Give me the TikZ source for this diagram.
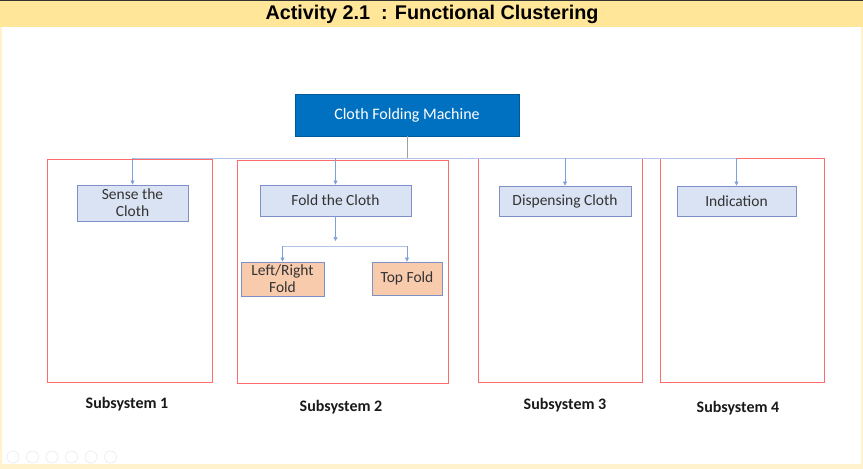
\documentclass[tikz,border=0pt]{standalone}
\usepackage{fontspec}
\setmainfont{Carlito}
\newfontfamily\arialfont{Liberation Sans}
\usetikzlibrary{arrows.meta}
\definecolor{hdr}{HTML}{FFE699}
\definecolor{frame}{HTML}{FFF2CC}
\definecolor{topblue}{HTML}{0070C0}
\definecolor{childfill}{HTML}{DAE3F3}
\definecolor{childline}{HTML}{7F8FC8}
\definecolor{orangefill}{HTML}{F8CBAD}
\definecolor{subred}{HTML}{FF6B6B}
\definecolor{conn}{HTML}{7F9FD8}
\definecolor{darkgrayline}{HTML}{A0A0A0}
\tikzset{
  childbox/.style={draw=childline, line width=0.9pt, fill=childfill, text=black!80, font=\fontsize{15.5}{17}\selectfont, align=center, inner sep=0pt},
  leafbox/.style={draw=childline, line width=0.9pt, fill=orangefill, text=black!80, font=\fontsize{15.5}{17}\selectfont, align=center, inner sep=0pt},
  subbox/.style={draw=subred, line width=0.9pt, inner sep=0pt},
  sublabel/.style={font=\bfseries\fontsize{16}{18}\selectfont, text=black!90},
  arr/.style={draw=conn, line width=0.6pt, -{Triangle[width=4pt,length=4pt]}},
  busline/.style={draw=conn!60, line width=0.7pt},
}
\begin{document}
\begin{tikzpicture}[x=1pt,y=-1pt]
\useasboundingbox (0,0) rectangle (863,469);
% background and frame
\fill[frame] (0,0) rectangle (863,469);
\fill[white] (2,27) rectangle (861,464);
\fill[hdr] (0,0) rectangle (863,27);
\draw[black!80, line width=0.8pt] (0,0.5) -- (863,0.5);
\node[font=\arialfont\bfseries\fontsize{19.8}{22}\selectfont] (title) at (432,14) {Activity 2.1\ \ : Functional Clustering};
% subsystem boxes
\node[subbox, minimum width=165pt, minimum height=223pt] (s1) at (129.5,270.5) {};
\node[subbox, minimum width=211pt, minimum height=223pt] (s2) at (342.5,271.5) {};
\node[subbox, minimum width=164pt, minimum height=224pt] (s3) at (560,270) {};
\node[subbox, minimum width=164pt, minimum height=224pt] (s4) at (742,270) {};
% top node
\node[fill=topblue, draw=topblue!80!black, line width=0.5pt, minimum width=224pt, minimum height=42pt, text=white, font=\fontsize{16}{18}\selectfont] (top) at (407,115) {Cloth Folding Machine};
% children
\node[childbox, minimum width=111pt, minimum height=36pt] (c1) at (132.5,203) {Sense the\\Cloth};
\node[childbox, minimum width=151pt, minimum height=31pt] (c2) at (335.5,200.5) {Fold the Cloth};
\node[childbox, minimum width=132pt, minimum height=30pt] (c3) at (565,201) {Dispensing Cloth};
\node[childbox, minimum width=119pt, minimum height=30pt] (c4) at (736.5,201) {Indication};
% leaves
\node[leafbox, minimum width=83pt, minimum height=34pt] (l1) at (282.5,279) {Left/Right\\Fold};
\node[leafbox, minimum width=70pt, minimum height=33pt] (l2) at (407,278.5) {Top Fold};
% connectors
\coordinate (busL) at (132.5,158);
\coordinate (busR) at (736.5,158);
\draw[darkgrayline, line width=0.7pt] (top.south) -- (top.south |- busL);
\draw[busline] (busL) -- (busR);
\draw[arr] (busL) -- (c1.north);
\draw[arr] (c2.north |- busL) -- (c2.north);
\draw[arr] (c3.north |- busL) -- (c3.north);
\draw[arr] (busR) -- (c4.north);
\coordinate (fold) at (335.5,241);
\draw[arr] (c2.south) -- (fold);
\coordinate (lbus) at (335.5,246);
\draw[busline] (l1.north |- lbus) -- (l2.north |- lbus);
\draw[arr] (l1.north |- lbus) -- (l1.north);
\draw[arr] (l2.north |- lbus) -- (l2.north);
% labels
\node[sublabel] (t1) at (127,404) {Subsystem 1};
\node[sublabel] (t2) at (341,407) {Subsystem 2};
\node[sublabel] (t3) at (565,405) {Subsystem 3};
\node[sublabel] (t4) at (738,408) {Subsystem 4};
% faint slide controls
\foreach \i in {0,...,5} {
  \draw[black!8, line width=0.6pt] (13+\i*19.5,457) circle (6pt);
}
\end{tikzpicture}
\end{document}
